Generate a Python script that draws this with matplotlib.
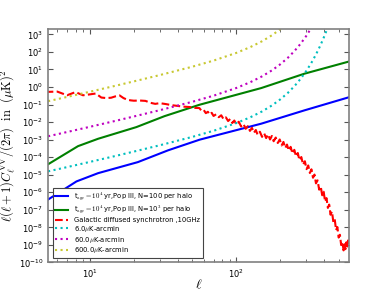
import numpy as np
import matplotlib
matplotlib.use("Agg")
import matplotlib.pyplot as plt

plt.rcParams['mathtext.fontset'] = 'cm'
plt.rcParams['font.family'] = ['DejaVu Sans']

# ---------------- data ----------------
# Pop III signal, N=100 per halo
blue_ell = [5.18, 8.12, 11.4, 21.3, 34.2, 56.3, 148, 292, 592]
blue_log = [-6.42, -5.38, -4.91, -4.28, -3.61, -3.00, -2.09, -1.33, -0.575]

# Pop III signal, N=10^3 per halo
green_ell = [5.18, 8.32, 11.4, 20.8, 32.4, 56.3, 148, 292, 592]
green_log = [-4.41, -3.37, -2.95, -2.285, -1.66, -1.008, -0.06, 0.76, 1.46]

# Galactic diffused synchrotron (10 GHz)
red_ell = [5, 6, 7, 8, 9, 10, 11, 12, 13, 14, 15, 16, 17, 18, 19, 20, 22, 24,
           26, 28, 30, 33, 36, 40, 44, 48, 52,
           56, 58, 60, 62, 64, 66, 68, 70, 73, 76, 79, 82, 85, 88, 91, 94, 97,
           100, 104, 108, 112, 116, 120, 124, 128, 132, 136, 140, 145, 150,
           155, 160, 165, 170, 175, 180, 186, 192, 198, 204, 210, 216, 222,
           228, 235, 242, 249, 256, 263, 270, 278, 286, 294, 302, 310, 318,
           326, 334, 342, 350, 359, 368, 377, 386, 395, 404, 413, 422, 431,
           440, 450, 460, 470, 480, 490, 500, 510, 520, 530, 540, 548, 556,
           564, 572, 580, 588]
red_log = [-0.28, -0.26, -0.47, -0.29, -0.47, -0.42, -0.37, -0.60, -0.63,
           -0.61, -0.53, -0.48, -0.63, -0.72, -0.76, -0.78, -0.77, -0.79,
           -0.90, -0.96, -0.92, -0.97, -1.03, -1.08, -1.12, -1.14, -1.19,
           -1.20, -1.36, -1.31, -1.49, -1.41, -1.57, -1.47, -1.65, -1.55,
           -1.72, -1.61, -1.84, -1.73, -1.94, -1.82, -2.05, -1.91,
           -2.13, -1.98, -2.25, -2.11, -2.38, -2.23, -2.50, -2.33, -2.61,
           -2.45, -2.73, -2.55, -2.84, -2.64, -2.91, -2.70, -2.99, -2.79,
           -3.09, -2.88, -3.19, -2.99, -3.33, -3.13, -3.48, -3.28, -3.62,
           -3.41, -3.79, -3.58, -3.96, -3.76, -4.17, -3.99, -4.43, -4.23,
           -4.68, -4.47, -4.90, -4.69, -5.17, -4.99, -5.49, -5.32, -5.85,
           -5.66, -6.17, -5.97, -6.53, -6.33, -6.89, -6.70, -7.28, -7.09,
           -7.70, -7.54, -8.16, -7.98, -8.58, -8.42, -9.01, -8.82, -9.31,
           -8.96, -9.24, -8.85, -9.09, -8.74, -8.97]

# instrument noise curves
noise_ell = [5.2, 7, 10, 15, 20, 30, 50, 70, 100, 125, 150, 175, 200, 225,
             250, 275, 300, 325, 350, 375, 400, 425]
noise_6 = [1.56e-5, 2.72e-5, 5.37e-5, 1.18e-4, 2.09e-4, 4.76e-4, 1.43e-3,
           3.20e-3, 8.78e-3, 1.90e-2, 4.06e-2, 8.84e-2, 0.199, 0.464, 1.14,
           2.94, 8.02, 23.2, 71.5, 233, 818, 3030]
noise_60 = [1.56e-3, 2.72e-3, 5.37e-3, 1.18e-2, 2.09e-2, 4.76e-2, 0.143,
            0.320, 0.878, 1.90, 4.06, 8.84, 19.9, 46.4, 114, 294, 802, 2320,
            7150, 2.33e4, 8.18e4, 3.03e5]
noise_600 = [0.156, 0.272, 0.537, 1.18, 2.09, 4.76, 14.3, 32.0, 87.8, 190,
             406, 884, 1990, 4640, 1.14e4, 2.94e4, 8.02e4, 2.32e5, 7.15e5,
             2.33e6, 8.18e6, 3.03e7]

labels = [r"t$_{\rm age}=10^4$ yr,Pop III, N=100 per halo",
          r"t$_{\rm age}=10^4$ yr,Pop III, N=10$^3$ per halo",
          "Galactic diffused synchrotron ,10GHz",
          r"6.0$\mu$K-arcmin",
          r"60.0$\mu$K-arcmin",
          r"600.0$\mu$K-arcmin"]

# ---------------- plot ----------------
fig = plt.figure(figsize=(3.88, 2.91), dpi=100)
ax = fig.add_axes([0.124, 0.098, 0.776, 0.802])

ax.plot(blue_ell, 10 ** np.array(blue_log), color='b', lw=1.5, label=labels[0])
ax.plot(green_ell, 10 ** np.array(green_log), color='g', lw=1.5, label=labels[1])
ax.plot(red_ell, 10 ** np.array(red_log), color='r', ls='--', lw=1.5, label=labels[2])
ax.plot(noise_ell, noise_6, color='c', ls=':', lw=1.5, label=labels[3])
ax.plot(noise_ell, noise_60, color='m', ls=':', lw=1.5, label=labels[4])
ax.plot(noise_ell, noise_600, color='#c8c832', ls=':', lw=1.5, label=labels[5])

ax.set_xscale('log')
ax.set_yscale('log')
ax.set_xlim(5.2, 590)
ax.set_ylim(1e-10, 2e3)
ax.yaxis.set_major_locator(matplotlib.ticker.LogLocator(base=10, numticks=20))
ax.yaxis.set_minor_locator(matplotlib.ticker.NullLocator())

for s in ax.spines.values():
    s.set_color('#808080')
    s.set_linewidth(1.2)
ax.tick_params(which='both', direction='in', top=True, right=True,
               labelsize=6, color='#555555')
ax.tick_params(which='major', length=3.5)
ax.tick_params(which='minor', length=2)

ax.set_xlabel(r"$\ell$", fontsize=10, labelpad=-2)
ax.set_ylabel(r"$\ell(\ell+1)C_\ell^{\rm VV}/(2\pi)\ \ {\rm in}\ \ (\mu {\rm K})^2$",
              fontsize=9, labelpad=1)

leg = ax.legend(loc='lower left', fontsize=4.9, fancybox=False, framealpha=1,
                edgecolor='#444444', handlelength=1.9, handletextpad=0.9,
                borderaxespad=0.7, labelspacing=0.12, borderpad=0.35)
leg.get_frame().set_linewidth(0.8)

fig.savefig("out.png", dpi=100)
